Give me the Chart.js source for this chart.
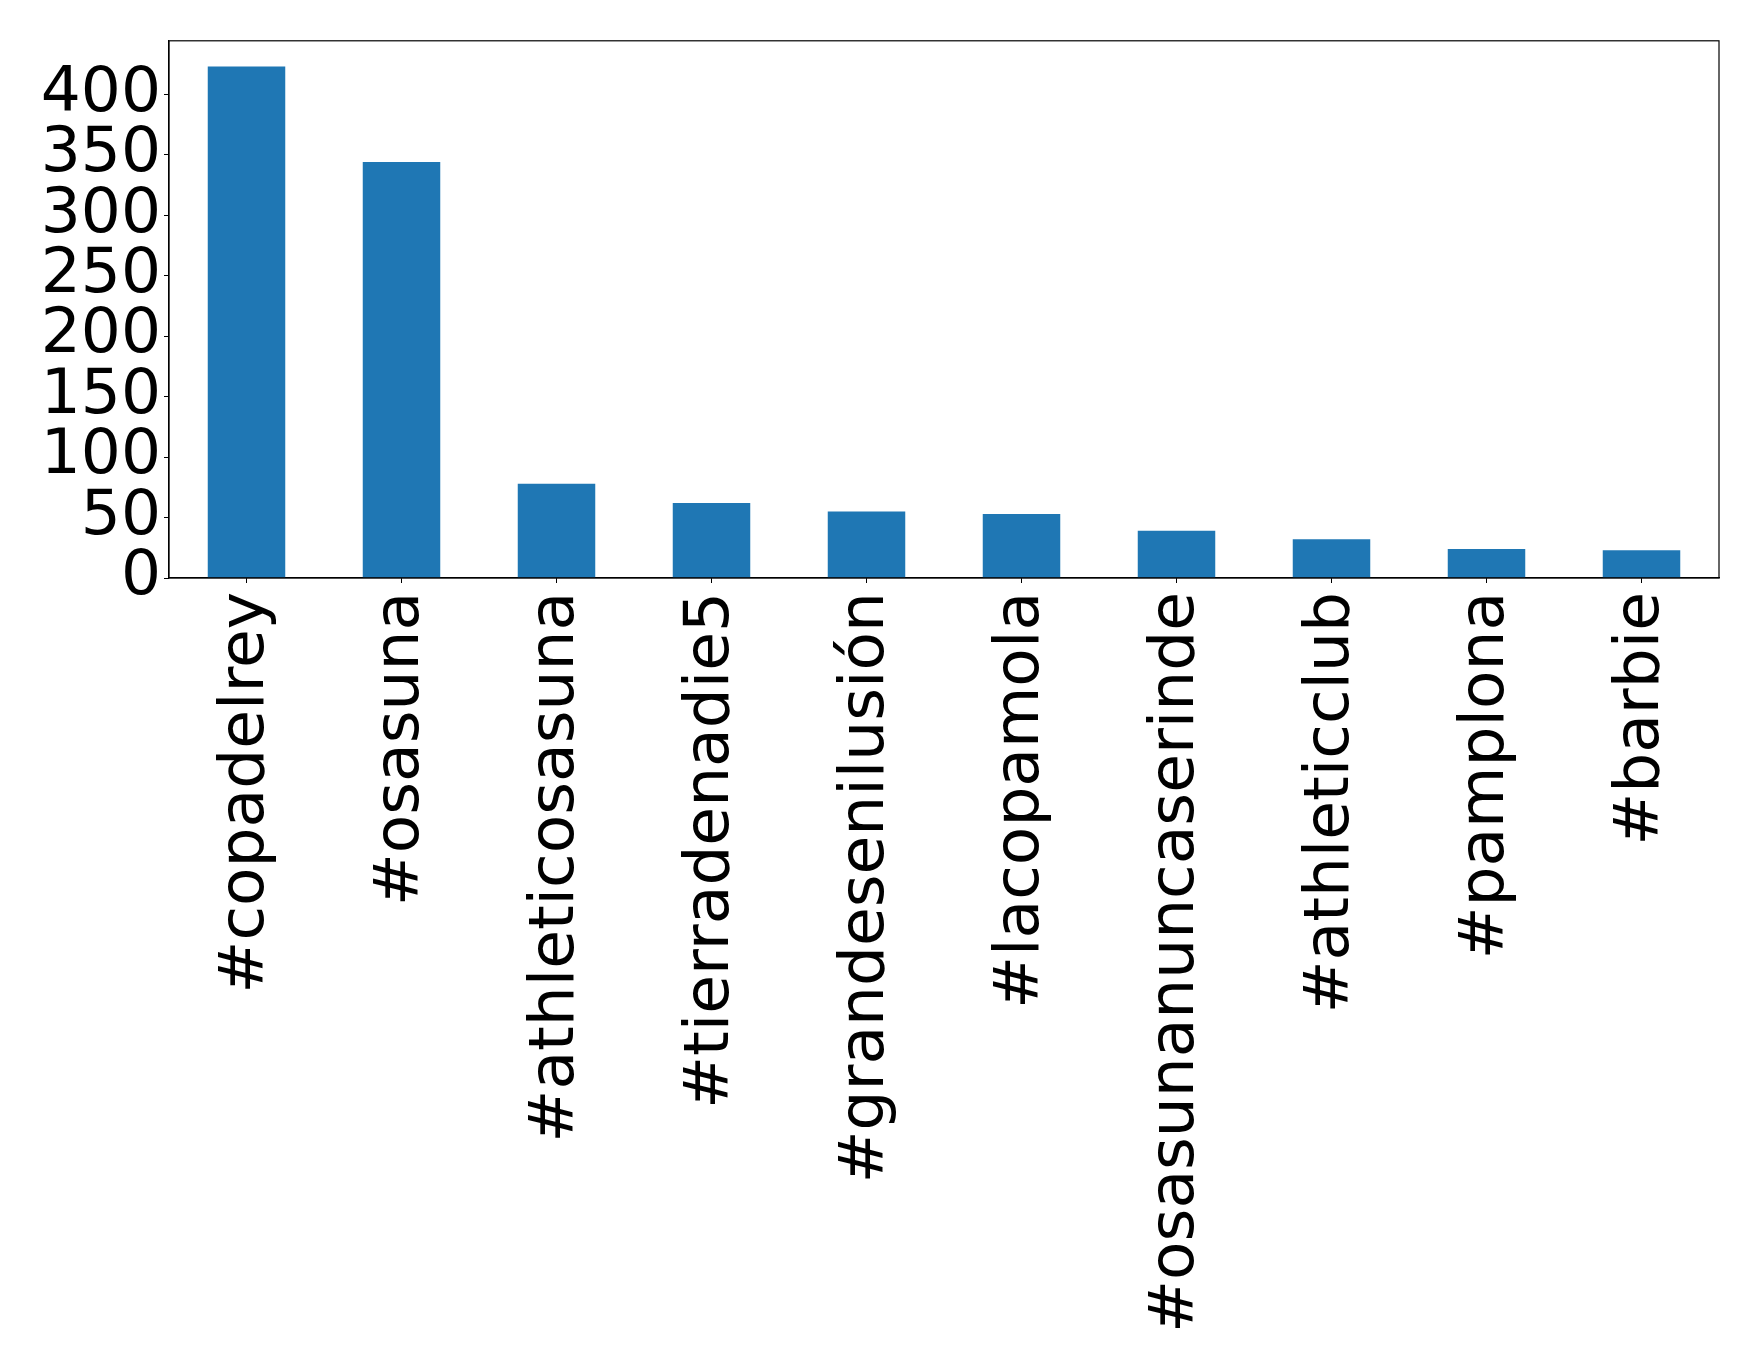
<!DOCTYPE html>
<html>
<head>
<meta charset="utf-8">
<script src="https://cdn.jsdelivr.net/npm/chart.js@4/dist/chart.umd.min.js"></script>
<style>
  body { margin: 0; background: #fff; }
  #wrap { width: 1759px; height: 1362px; }
</style>
</head>
<body>
<div id="wrap"><canvas id="hashtag-chart" width="1759" height="1362"></canvas></div>
<script>
var hashtags = ["#copadelrey", "#osasuna", "#athleticosasuna", "#tierradenadie5", "#grandesenilusión",
    "#lacopamola", "#osasunanuncaserinde", "#athleticclub", "#pamplona", "#barbie"];
var counts = [423, 344, 78, 62, 55, 53, 39, 32, 24, 23];
var yTicks = [0, 50, 100, 150, 200, 250, 300, 350, 400];

var tickFont = { family: "DejaVu Sans", size: 63 };

// matplotlib style box around the plot area
var frame = {
    id: 'frame',
    afterDraw: function(chart) {
        var a = chart.chartArea;
        var ctx = chart.ctx;
        ctx.save();
        ctx.strokeStyle = "#000";
        ctx.lineWidth = 1.2;
        ctx.strokeRect(a.left, a.top, a.right - a.left, a.bottom - a.top);
        ctx.restore();
    }
};

var config = {
    type: 'bar',
    data: {
        labels: hashtags,
        datasets: [{
            data: counts,
            backgroundColor: "#1f77b4",
            categoryPercentage: 1.0,
            barPercentage: 0.5
        }]
    },
    options: {
        responsive: false,
        animation: false,
        layout: { padding: { top: 35, right: 40, left: 0, bottom: 0 } },
        plugins: { legend: { display: false }, tooltip: { enabled: false } },
        scales: {
            x: {
                grid: { drawOnChartArea: false, offset: false, tickLength: 5, color: "#000" },
                border: { color: "#000", width: 1.2 },
                ticks: {
                    autoSkip: false, minRotation: 90, maxRotation: 90,
                    padding: 9, color: "#000", font: tickFont
                },
                afterFit: function(scale) { scale.height = 784; }
            },
            y: {
                min: 0,
                max: 423 * 1.05,
                grid: { drawOnChartArea: false, tickLength: 5, color: "#000" },
                border: { color: "#000", width: 1.2 },
                afterBuildTicks: function(scale) {
                    scale.ticks = yTicks.map(function(v) { return { value: v }; });
                },
                ticks: { autoSkip: false, padding: 3, color: "#000", font: tickFont },
                afterFit: function(scale) { scale.width = 169; }
            }
        }
    },
    plugins: [frame]
};

var ctx = document.getElementById("hashtag-chart").getContext("2d");
window.hashtagChart = new Chart(ctx, config);
</script>
</body>
</html>
